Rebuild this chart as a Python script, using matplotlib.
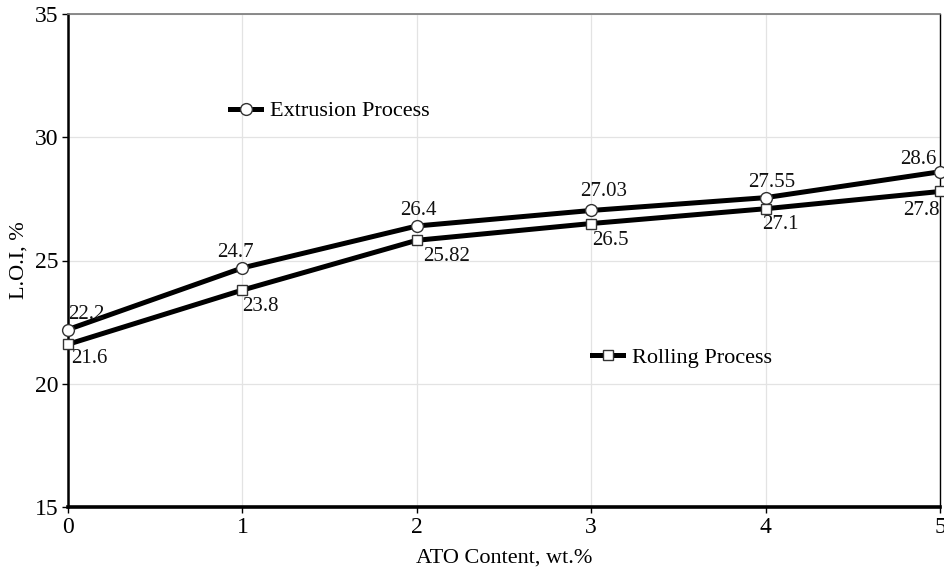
import matplotlib
matplotlib.use("Agg")
import matplotlib.pyplot as plt
from matplotlib.lines import Line2D

x = [0, 1, 2, 3, 4, 5]
extrusion = [22.2, 24.7, 26.4, 27.03, 27.55, 28.6]
rolling = [21.6, 23.8, 25.82, 26.5, 27.1, 27.8]
ext_labels = ["22.2", "24.7", "26.4", "27.03", "27.55", "28.6"]
rol_labels = ["21.6", "23.8", "25.82", "26.5", "27.1", "27.8"]
xticks = [0, 1, 2, 3, 4, 5]
yticks = [15, 20, 25, 30, 35]

plt.rcParams['font.family'] = ['Liberation Serif', 'DejaVu Serif']

fig = plt.figure(figsize=(9.45, 5.74), dpi=100)
ax = fig.add_axes([68/945, 1-507/574, (940-68)/945, (507-14)/574])

lw = 3.6
ms = 8.5
ax.plot(x, extrusion, color='black', lw=lw, marker='o', ms=ms, mfc='white',
        mec='#333333', mew=1.0, zorder=3, clip_on=False)
ax.plot(x, rolling, color='black', lw=lw, marker='s', ms=ms - 0.8, mfc='white',
        mec='#333333', mew=1.0, zorder=3, clip_on=False)

ext_off = [(18, 15), (-7, 15), (2, 15), (12, 19), (6, 15), (-22, 12)]
rol_off = [(21, -14), (18, -16), (30, -16), (19, -17), (15, -16), (-19, -19)]
for xi, yi, t, o in zip(x, extrusion, ext_labels, ext_off):
    ax.annotate(t, (xi, yi), xytext=o, textcoords='offset pixels',
                ha='center', va='center', fontsize=15, color='#111111')
for xi, yi, t, o in zip(x, rolling, rol_labels, rol_off):
    ax.annotate(t, (xi, yi), xytext=o, textcoords='offset pixels',
                ha='center', va='center', fontsize=15, color='#111111')

ax.set_xlim(0, 5)
ax.set_ylim(15, 35)
ax.set_xticks(xticks)
ax.set_yticks(yticks)
ax.tick_params(labelsize=17, direction='out', length=4, width=1, pad=3)
ax.grid(True, color='#e3e3e3', lw=0.9)
ax.set_axisbelow(True)

ax.spines['top'].set_color('#777777')
ax.spines['top'].set_linewidth(1.2)
ax.spines['right'].set_color('black')
ax.spines['right'].set_linewidth(1.0)
ax.spines['left'].set_linewidth(1.8)
ax.spines['bottom'].set_linewidth(2.6)

ax.set_xlabel("ATO Content, wt.%", fontsize=16, labelpad=8)
ax.set_ylabel("L.O.I, %", fontsize=16)
ax.yaxis.set_label_coords((29 - 68) / 872, 0.5)

h1 = Line2D([], [], color='black', lw=lw, marker='o', ms=ms, mfc='white', mec='#333333', mew=1.0)
h2 = Line2D([], [], color='black', lw=lw, marker='s', ms=ms - 0.8, mfc='white', mec='#333333', mew=1.0)
leg1 = ax.legend([h1], ["Extrusion Process"], loc='center left',
                 bbox_to_anchor=((230-68)/872, 1-(111-14)/493), frameon=False,
                 fontsize=16, handlelength=1.4, handletextpad=0.4, borderpad=0, borderaxespad=0)
ax.add_artist(leg1)
ax.legend([h2], ["Rolling Process"], loc='center left',
          bbox_to_anchor=((592-68)/872, 1-(358-14)/493), frameon=False,
          fontsize=16, handlelength=1.4, handletextpad=0.4, borderpad=0, borderaxespad=0)

fig.savefig("out.png", dpi=100)
